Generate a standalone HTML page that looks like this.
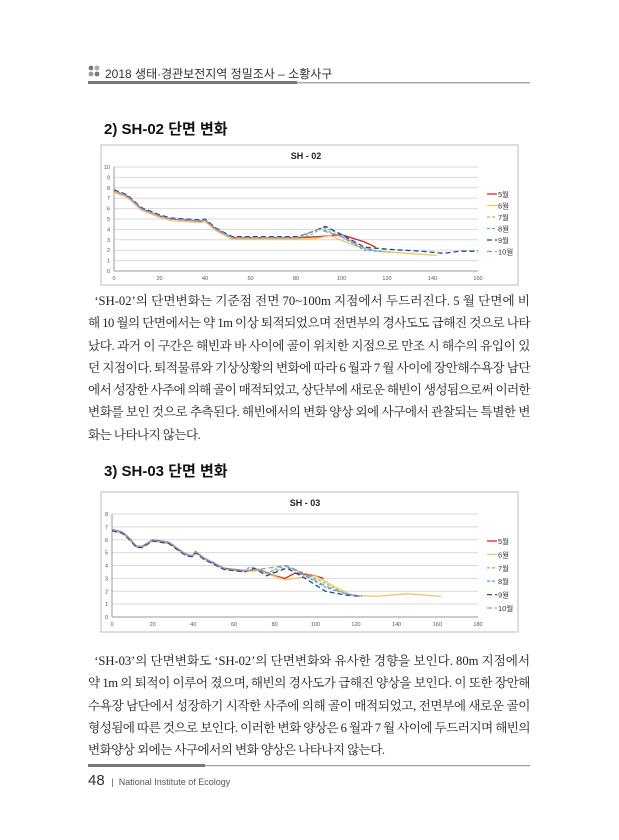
<!DOCTYPE html>
<html><head><meta charset="utf-8">
<style>
html,body{margin:0;padding:0;background:#fff;}
body{width:619px;height:840px;position:relative;overflow:hidden;font-family:"Liberation Sans","Noto Sans CJK KR",sans-serif;}
.abs{position:absolute;}
.hdr{left:105px;top:65px;font-size:12px;color:#333;}
.h2{font-size:15px;font-weight:bold;color:#111;font-family:"Liberation Sans","Noto Sans CJK KR",sans-serif;}
.p{position:absolute;left:88px;width:442px;font-family:"Liberation Serif","Noto Serif CJK SC",serif;font-size:12.6px;color:#222;line-height:22.3px;}
.p div{white-space:nowrap;}
.p div span{display:inline-block;white-space:nowrap;}
</style></head><body>
<svg class="abs" style="left:0;top:0" width="619" height="840">
<circle cx="91" cy="68" r="2.4" fill="#777"/><circle cx="97" cy="68" r="2.4" fill="#aaa"/>
<circle cx="91" cy="74" r="2.4" fill="#999"/><circle cx="97" cy="74" r="2.4" fill="#777"/>
<rect x="88" y="81" width="209" height="3" fill="#777"/>
<rect x="297" y="82" width="233" height="1.5" fill="#aaa"/>
<rect x="88" y="764" width="117" height="3" fill="#777"/>
<rect x="205" y="765" width="325" height="1.2" fill="#999"/>
<g id="charts"></g>
</svg>
<div class="abs hdr">2018 생태·경관보전지역 정밀조사 – 소황사구</div>
<div class="abs h2" style="left:104px;top:118px;">2) SH-02 단면 변화</div>
<div class="abs h2" style="left:104px;top:460px;">3) SH-03 단면 변화</div>
<div class="p" style="top:290px;">
<div><span class="f">&nbsp;&nbsp;‘SH-02’의 단면변화는 기준점 전면 70~100m 지점에서 두드러진다. 5 월 단면에 비</span></div>
<div><span class="f">해 10 월의 단면에서는 약 1m 이상 퇴적되었으며 전면부의 경사도도 급해진 것으로 나타</span></div>
<div><span class="f">났다. 과거 이 구간은 해빈과 바 사이에 골이 위치한 지점으로 만조 시 해수의 유입이 있</span></div>
<div><span class="f">던 지점이다. 퇴적물류와 기상상황의 변화에 따라 6 월과 7 월 사이에 장안해수욕장 남단</span></div>
<div><span class="f">에서 성장한 사주에 의해 골이 매적되었고, 상단부에 새로운 해빈이 생성됨으로써 이러한</span></div>
<div><span class="f">변화를 보인 것으로 추측된다. 해빈에서의 변화 양상 외에 사구에서 관찰되는 특별한 변</span></div>
<div><span class="n">화는 나타나지 않는다.</span></div>
</div>
<div class="p" style="top:650px;">
<div><span class="f">&nbsp;&nbsp;‘SH-03’의 단면변화도 ‘SH-02’의 단면변화와 유사한 경향을 보인다. 80m 지점에서</span></div>
<div><span class="f">약 1m 의 퇴적이 이루어 졌으며, 해빈의 경사도가 급해진 양상을 보인다. 이 또한 장안해</span></div>
<div><span class="f">수욕장 남단에서 성장하기 시작한 사주에 의해 골이 매적되었고, 전면부에 새로운 골이</span></div>
<div><span class="f">형성됨에 따른 것으로 보인다. 이러한 변화 양상은 6 월과 7 월 사이에 두드러지며 해빈의</span></div>
<div><span class="n">변화양상 외에는 사구에서의 변화 양상은 나타나지 않는다.</span></div>
</div>
<div class="abs" style="left:88px;top:772px;font-size:15px;color:#333;">48 <span style="font-size:9px;color:#555;">&nbsp;|&nbsp; National Institute of Ecology</span></div>
<script>
var fitLS=null;
document.querySelectorAll(".p span.f").forEach(function(s){
 var w=s.getBoundingClientRect().width,n=s.textContent.length;
 var ls=(442-w)/n; s.style.letterSpacing=ls+"px"; fitLS=ls;
});
document.querySelectorAll(".p span.n").forEach(function(s){ s.style.letterSpacing=(fitLS||0)+"px"; });
var NS="http://www.w3.org/2000/svg",G=document.getElementById("charts");
function el(t,a,txt){var e=document.createElementNS(NS,t);for(var k in a)e.setAttribute(k,a[k]);if(txt!=null)e.textContent=txt;G.appendChild(e);return e;}
var styles=[{c:"#d7261e",d:""},{c:"#f6c461",d:""},{c:"#8fc95a",d:"3,2"},{c:"#4bb3d8",d:"3,2"},{c:"#1f4e8c",d:"5,3"},{c:"#a88cc8",d:"5,3"}];
var names=["5월","6월","7월","8월","9월","10월"];
function chart(o){
 el("rect",{x:o.bx,y:o.by,width:o.bw,height:o.bh,fill:"#fff",stroke:"#bbb","stroke-width":1});
 el("text",{x:(o.x0+o.x1)/2+10,y:o.by+14,"font-size":"9","font-weight":"bold","text-anchor":"middle",fill:"#222"},o.title);
 var X=function(v){return o.x0+(o.x1-o.x0)*v/o.xm},Y=function(v){return o.y0-(o.y0-o.y1)*v/o.ym};
 for(var i=0;i<=o.ym;i++){
  if(i>0)el("line",{x1:o.x0,x2:o.x1,y1:Y(i),y2:Y(i),stroke:"#d9d9d9","stroke-width":1});
  el("text",{x:o.x0-4,y:Y(i)+2,"font-size":"5.5","text-anchor":"end",fill:"#555"},i);
 }
 el("line",{x1:o.x0,x2:o.x1,y1:o.y0,y2:o.y0,stroke:"#999"});
 el("line",{x1:o.x0,x2:o.x0,y1:o.y0,y2:o.y1,stroke:"#999"});
 for(var v=0;v<=o.xm;v+=20)el("text",{x:X(v),y:o.y0+9,"font-size":"5.5","text-anchor":"middle",fill:"#555"},v);
 o.series.forEach(function(s,j){
  var d=s.map(function(p,k){return (k?"L":"M")+X(p[0]).toFixed(1)+","+Y(p[1]).toFixed(1)}).join("");
  el("path",{d:d,fill:"none",stroke:styles[j].c,"stroke-width":1.3,"stroke-dasharray":styles[j].d,"stroke-linejoin":"round"});
 });
 names.forEach(function(n,j){var y=o.ly+j*o.ls;
  el("line",{x1:o.lx,x2:o.lx+10,y1:y,y2:y,stroke:styles[j].c,"stroke-width":1.3,"stroke-dasharray":styles[j].d});
  el("text",{x:o.lx+11,y:y+3,"font-size":"7.5",fill:"#333"},n);});
}
var a=[[0,7.7],[5,7.3],[7,7],[12,6],[20,5.3],[25,5.0],[38,4.8],[40,4.9],[45,4],[52,3.2],[60,3.2],[80,3.2]];
function ext(b,t){return b.concat(t);}
chart({bx:101,by:145,bw:417,bh:140,x0:114,x1:478,y0:271,y1:167,xm:160,ym:10,title:"SH - 02",lx:487,ly:194,ls:11.5,
series:[
 ext(a,[[90,3.3],[100,3.5],[110,2.8],[115,2.3]]),
 ext(a.map(function(p){return [p[0],p[1]-0.15]}),[[88,3.1],[95,3.4],[105,2.5],[115,1.9],[142,1.5]]),
 ext(a,[[86,3.4],[92,4.2],[100,3.5],[108,2.3],[115,1.9],[122,1.8]]),
 ext(a,[[84,3.5],[91,4.1],[100,3.3],[110,2.0],[118,1.9]]),
 ext(a.map(function(p){return [p[0],p[1]+0.1]}),[[85,3.6],[93,4.3],[100,3.5],[110,2.3],[120,2.1],[135,1.9],[145,1.7],[152,1.9],[160,1.9]]),
 ext(a,[[82,3.4],[90,4.0],[100,3.3],[110,2.2],[115,2.0]])
]});
var b=[[0,6.8],[5,6.6],[8,6.2],[12,5.5],[15,5.5],[20,6],[28,5.8],[35,5],[38,4.8],[40,4.8],[41,5.1],[45,4.6],[55,3.8],[65,3.6]];
chart({bx:101,by:492,bw:417,bh:140,x0:112,x1:478,y0:617,y1:514,xm:180,ym:8,title:"SH - 03",lx:487,ly:541,ls:13.4,
series:[
 ext(b,[[72,3.7],[80,3.2],[85,3.0],[90,3.4],[100,3.2],[104,3.0]]),
 ext(b.map(function(p){return [p[0],p[1]-0.1]}),[[72,3.6],[85,2.9],[100,3.2],[110,2.3],[118,1.7],[130,1.6],[145,1.8],[162,1.6]]),
 ext(b,[[72,3.7],[78,3.4],[86,3.9],[95,3.4],[105,2.6],[115,1.8],[122,1.6]]),
 ext(b,[[68,3.9],[76,3.4],[85,4.0],[95,3.2],[105,2.3],[115,1.8],[122,1.6]]),
 ext(b.map(function(p){return [p[0],p[1]-0.1]}),[[70,3.8],[76,3.2],[86,3.8],[95,3.0],[105,2.0],[115,1.7],[123,1.6]]),
 ext(b,[[72,3.7],[86,4.0],[95,3.3],[105,2.4],[115,1.8],[122,1.6]])
]});
</script>
</body></html>
